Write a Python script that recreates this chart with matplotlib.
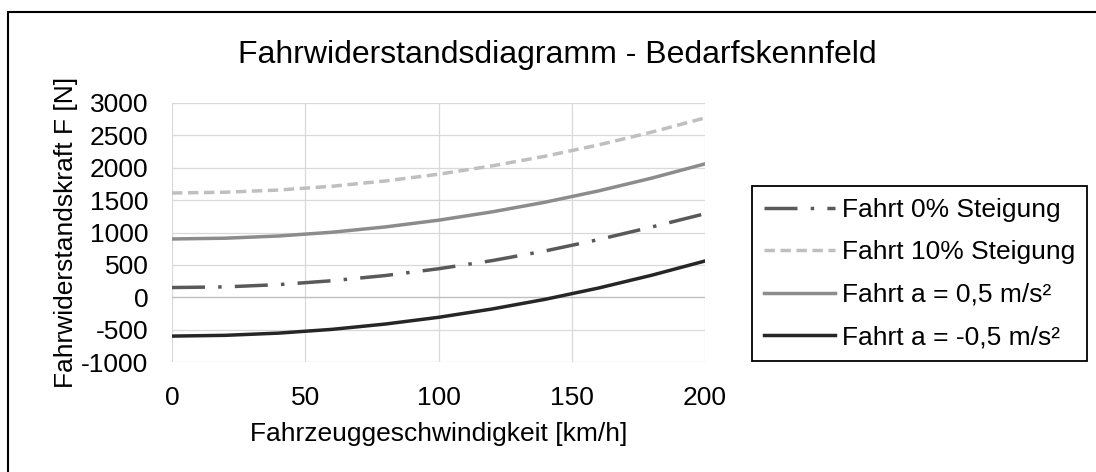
import matplotlib
matplotlib.use('Agg')
import matplotlib.pyplot as plt
from matplotlib.patches import Rectangle

plt.rcParams['font.family'] = ['Liberation Sans', 'DejaVu Sans']
plt.rcParams['axes.unicode_minus'] = False

# Daten
speed = [0, 20, 40, 60, 80, 100, 120, 140, 160, 180, 200]
f_0pct = [150, 160, 195, 255, 335, 440, 565, 715, 890, 1085, 1290]
f_10pct = [1610, 1622, 1656, 1714, 1796, 1900, 2028, 2178, 2352, 2550, 2770]
f_acc = [900, 912, 946, 1004, 1086, 1190, 1318, 1468, 1642, 1840, 2060]
f_dec = [-600, -588, -554, -496, -414, -310, -182, -32, 142, 340, 560]

labels = ['Fahrt 0% Steigung', 'Fahrt 10% Steigung',
          'Fahrt a = 0,5 m/s²', 'Fahrt a = -0,5 m/s²']

W, H = 1096, 472
fig = plt.figure(figsize=(W / 100, H / 100), dpi=100)
ax = fig.add_axes([172 / W, 1 - 362 / H, 533 / W, 259 / H])

lw = 2.5
ax.plot(speed, f_0pct, color='#595959', lw=lw, dashes=(9.5, 3.8, 1, 3.8), label=labels[0])
ax.plot(speed, f_10pct, color='#bfbfbf', lw=lw, dashes=(3, 1.6), label=labels[1])
ax.plot(speed, f_acc, color='#8c8c8c', lw=lw, label=labels[2])
ax.plot(speed, f_dec, color='#262626', lw=lw, label=labels[3])

ax.set_xlim(0, 200)
ax.set_ylim(-1000, 3000)
ax.set_xticks(range(0, 201, 50))
ax.set_yticks(range(-1000, 3001, 500))
ax.grid(True, color='#d9d9d9', lw=0.9)
ax.axhline(0, color='#bfbfbf', lw=0.9, zorder=1)
ax.set_axisbelow(True)
for s in ax.spines.values():
    s.set_visible(False)
ax.tick_params(length=0, labelsize=19)
ax.tick_params(axis='x', pad=17)
ax.tick_params(axis='y', pad=17)

ax.set_xlabel('Fahrzeuggeschwindigkeit [km/h]', fontsize=19, labelpad=9)
ax.set_ylabel('Fahrwiderstandskraft F [N]', fontsize=19, labelpad=2)
fig.suptitle('Fahrwiderstandsdiagramm - Bedarfskennfeld', fontsize=23,
             x=557 / W, y=1 - 55 / H, va='center')

leg = ax.legend(loc='upper left', bbox_to_anchor=(752 / W, 1 - 186 / H),
                bbox_transform=fig.transFigure, borderaxespad=0,
                fontsize=19, frameon=True, fancybox=False, framealpha=1,
                edgecolor='black', handlelength=2.7, handletextpad=0.25,
                labelspacing=0.7, borderpad=0.45)
leg.get_frame().set_linewidth(1.3)

# Rahmen (links/oben sichtbar)
fig.add_artist(Rectangle((8 / W, -0.5), 2, 1 - 12 / H + 0.5, transform=fig.transFigure,
                         fill=False, edgecolor='black', lw=1.5))

fig.savefig('out.png', dpi=100)
